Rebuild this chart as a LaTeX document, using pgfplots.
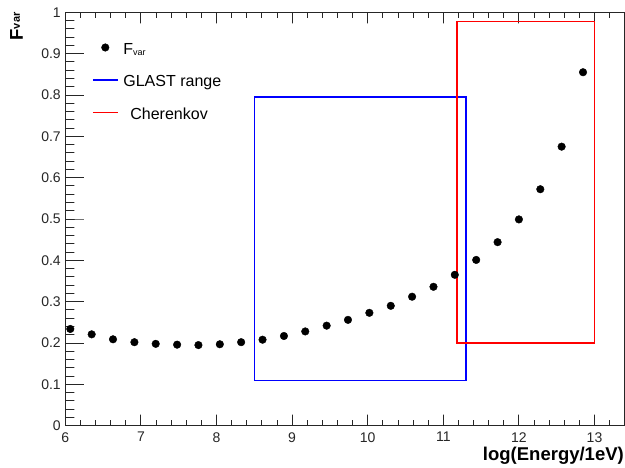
\documentclass[border=0pt]{standalone}
\usepackage{fontspec}
\setmainfont{Liberation Sans}
\usepackage{pgfplots}
\pgfplotsset{compat=1.18}
\usetikzlibrary{calc}
\pgfplotsset{
  markleg/.style={legend image code/.code={\draw[mark repeat=2,mark phase=2,##1] plot coordinates {(0pt,0.3em) (12.5pt,0.3em) (25pt,0.3em)};}},
  tk/.style={black!85, line width=0.9pt, line join=bevel, mark=none, forget plot},
}
\begin{document}
\begin{tikzpicture}
\begin{axis}[
  scale only axis, width=558.7pt, height=413.4pt,
  xmin=6, xmax=13.39, ymin=0, ymax=1,
  axis line style={line width=0.9pt, black!85},
  tick style={draw=none},
  xtick={6,7,8,9,10,11,12,13},
  ytick={0,0.1,0.2,0.3,0.4,0.5,0.6,0.7,0.8,0.9,1},
  yticklabels={0,0.1,0.2,0.3,0.4,0.5,0.6,0.7,0.8,0.9,1},
  xtick pos=left, ytick pos=left, tick align=inside,
  /pgf/number format/assume math mode=true,
  xticklabel style={font=\fontsize{14}{16}\selectfont, text=black!85, yshift=-3pt},
  yticklabel style={font=\fontsize{14}{16}\selectfont, text=black!85, xshift=-1pt},
  xlabel={log(Energy/1eV)},
  xlabel style={at={(rel axis cs:1,0)}, anchor=north east, yshift=-21pt, inner sep=0pt, font=\bfseries\fontsize{18.5}{20}\selectfont},
  legend style={draw=none, fill=none, at={(rel axis cs:0,1)}, anchor=north west,
    xshift=23.7pt, yshift=-28pt, font=\fontsize{16}{19}\selectfont,
    row sep=16.5pt, nodes={inner sep=0pt, text height=12pt, text depth=4pt},
    /tikz/every odd column/.append style={column sep=5pt}},
  legend cell align=left,
  legend image code/.code={\draw[#1] (0pt,0.3em) -- (25pt,0.3em);},
]
% ROOT-style tick combs (bottom, top, left)
\addplot[tk] coordinates {
(6,0)(6,.0266)(6,0)(6.2,0)(6.2,.0133)(6.2,0)(6.4,0)(6.4,.0133)(6.4,0)(6.6,0)(6.6,.0133)(6.6,0)(6.8,0)(6.8,.0133)(6.8,0)
(7,0)(7,.0266)(7,0)(7.2,0)(7.2,.0133)(7.2,0)(7.4,0)(7.4,.0133)(7.4,0)(7.6,0)(7.6,.0133)(7.6,0)(7.8,0)(7.8,.0133)(7.8,0)
(8,0)(8,.0266)(8,0)(8.2,0)(8.2,.0133)(8.2,0)(8.4,0)(8.4,.0133)(8.4,0)(8.6,0)(8.6,.0133)(8.6,0)(8.8,0)(8.8,.0133)(8.8,0)
(9,0)(9,.0266)(9,0)(9.2,0)(9.2,.0133)(9.2,0)(9.4,0)(9.4,.0133)(9.4,0)(9.6,0)(9.6,.0133)(9.6,0)(9.8,0)(9.8,.0133)(9.8,0)
(10,0)(10,.0266)(10,0)(10.2,0)(10.2,.0133)(10.2,0)(10.4,0)(10.4,.0133)(10.4,0)(10.6,0)(10.6,.0133)(10.6,0)(10.8,0)(10.8,.0133)(10.8,0)
(11,0)(11,.0266)(11,0)(11.2,0)(11.2,.0133)(11.2,0)(11.4,0)(11.4,.0133)(11.4,0)(11.6,0)(11.6,.0133)(11.6,0)(11.8,0)(11.8,.0133)(11.8,0)
(12,0)(12,.0266)(12,0)(12.2,0)(12.2,.0133)(12.2,0)(12.4,0)(12.4,.0133)(12.4,0)(12.6,0)(12.6,.0133)(12.6,0)(12.8,0)(12.8,.0133)(12.8,0)
(13,0)(13,.0266)(13,0)(13.2,0)(13.2,.0133)(13.2,0)
};
\addplot[tk] coordinates {
(6,1)(6,.9734)(6,1)(6.2,1)(6.2,.9867)(6.2,1)(6.4,1)(6.4,.9867)(6.4,1)(6.6,1)(6.6,.9867)(6.6,1)(6.8,1)(6.8,.9867)(6.8,1)
(7,1)(7,.9734)(7,1)(7.2,1)(7.2,.9867)(7.2,1)(7.4,1)(7.4,.9867)(7.4,1)(7.6,1)(7.6,.9867)(7.6,1)(7.8,1)(7.8,.9867)(7.8,1)
(8,1)(8,.9734)(8,1)(8.2,1)(8.2,.9867)(8.2,1)(8.4,1)(8.4,.9867)(8.4,1)(8.6,1)(8.6,.9867)(8.6,1)(8.8,1)(8.8,.9867)(8.8,1)
(9,1)(9,.9734)(9,1)(9.2,1)(9.2,.9867)(9.2,1)(9.4,1)(9.4,.9867)(9.4,1)(9.6,1)(9.6,.9867)(9.6,1)(9.8,1)(9.8,.9867)(9.8,1)
(10,1)(10,.9734)(10,1)(10.2,1)(10.2,.9867)(10.2,1)(10.4,1)(10.4,.9867)(10.4,1)(10.6,1)(10.6,.9867)(10.6,1)(10.8,1)(10.8,.9867)(10.8,1)
(11,1)(11,.9734)(11,1)(11.2,1)(11.2,.9867)(11.2,1)(11.4,1)(11.4,.9867)(11.4,1)(11.6,1)(11.6,.9867)(11.6,1)(11.8,1)(11.8,.9867)(11.8,1)
(12,1)(12,.9734)(12,1)(12.2,1)(12.2,.9867)(12.2,1)(12.4,1)(12.4,.9867)(12.4,1)(12.6,1)(12.6,.9867)(12.6,1)(12.8,1)(12.8,.9867)(12.8,1)
(13,1)(13,.9734)(13,1)(13.2,1)(13.2,.9867)(13.2,1)
};
\addplot[tk] coordinates {
(6,0)(6.2446,0)(6,0)(6,.02)(6.119,.02)(6,.02)(6,.04)(6.119,.04)(6,.04)(6,.06)(6.119,.06)(6,.06)(6,.08)(6.119,.08)(6,.08)
(6,.1)(6.2446,.1)(6,.1)(6,.12)(6.119,.12)(6,.12)(6,.14)(6.119,.14)(6,.14)(6,.16)(6.119,.16)(6,.16)(6,.18)(6.119,.18)(6,.18)
(6,.2)(6.2446,.2)(6,.2)(6,.22)(6.119,.22)(6,.22)(6,.24)(6.119,.24)(6,.24)(6,.26)(6.119,.26)(6,.26)(6,.28)(6.119,.28)(6,.28)
(6,.3)(6.2446,.3)(6,.3)(6,.32)(6.119,.32)(6,.32)(6,.34)(6.119,.34)(6,.34)(6,.36)(6.119,.36)(6,.36)(6,.38)(6.119,.38)(6,.38)
(6,.4)(6.2446,.4)(6,.4)(6,.42)(6.119,.42)(6,.42)(6,.44)(6.119,.44)(6,.44)(6,.46)(6.119,.46)(6,.46)(6,.48)(6.119,.48)(6,.48)
(6,.5)(6.2446,.5)(6,.5)(6,.52)(6.119,.52)(6,.52)(6,.54)(6.119,.54)(6,.54)(6,.56)(6.119,.56)(6,.56)(6,.58)(6.119,.58)(6,.58)
(6,.6)(6.2446,.6)(6,.6)(6,.62)(6.119,.62)(6,.62)(6,.64)(6.119,.64)(6,.64)(6,.66)(6.119,.66)(6,.66)(6,.68)(6.119,.68)(6,.68)
(6,.7)(6.2446,.7)(6,.7)(6,.72)(6.119,.72)(6,.72)(6,.74)(6.119,.74)(6,.74)(6,.76)(6.119,.76)(6,.76)(6,.78)(6.119,.78)(6,.78)
(6,.8)(6.2446,.8)(6,.8)(6,.82)(6.119,.82)(6,.82)(6,.84)(6.119,.84)(6,.84)(6,.86)(6.119,.86)(6,.86)(6,.88)(6.119,.88)(6,.88)
(6,.9)(6.2446,.9)(6,.9)(6,.92)(6.119,.92)(6,.92)(6,.94)(6.119,.94)(6,.94)(6,.96)(6.119,.96)(6,.96)(6,.98)(6.119,.98)(6,.98)
(6,1)(6.2446,1)(6,1)
};
\addplot[only marks, mark=*, mark size=3.8pt, black, forget plot]
coordinates {
(6.066,0.234) (6.349,0.221) (6.631,0.209) (6.914,0.202) (7.196,0.198)
(7.479,0.196) (7.761,0.195) (8.044,0.197) (8.326,0.202) (8.609,0.208)
(8.892,0.217) (9.174,0.228) (9.457,0.242) (9.739,0.256) (10.022,0.273)
(10.305,0.290) (10.587,0.312) (10.870,0.336) (11.152,0.365) (11.435,0.401)
(11.718,0.444) (12.000,0.499) (12.283,0.572) (12.565,0.675) (12.848,0.855)
};
\addplot[blue, line width=1.2pt, line cap=rect, mark=none, forget plot]
coordinates {(8.5,0.11) (11.3,0.11) (11.3,0.795) (8.5,0.795) (8.5,0.11)};
\addplot[red, line width=1.2pt, line cap=rect, mark=none, forget plot]
coordinates {(11.18,0.2) (13.0,0.2) (13.0,0.977) (11.18,0.977) (11.18,0.2)};
\addlegendimage{only marks, mark=*, mark size=3.8pt, black, markleg}
\addlegendentry{F{\raisebox{-1pt}{\fontsize{9}{9}\selectfont var}}}
\addlegendimage{blue, line width=1.2pt}
\addlegendentry{GLAST range}
\addlegendimage{red, line width=1.2pt}
\addlegendentry{\hspace{7pt}Cherenkov}
\end{axis}
\node[rotate=90, anchor=base east, inner sep=0pt, font=\bfseries\fontsize{18.5}{20}\selectfont]
  at ($(current axis.north west)+(-42.3pt,0pt)$) {F{\raisebox{3pt}{\fontsize{11}{11}\selectfont var}}};
\pgfresetboundingbox
\path ($(current axis.south west)+(-65.3pt,-42.3pt)$) rectangle ($(current axis.north east)+(1pt,12.3pt)$);
\end{tikzpicture}
\end{document}
